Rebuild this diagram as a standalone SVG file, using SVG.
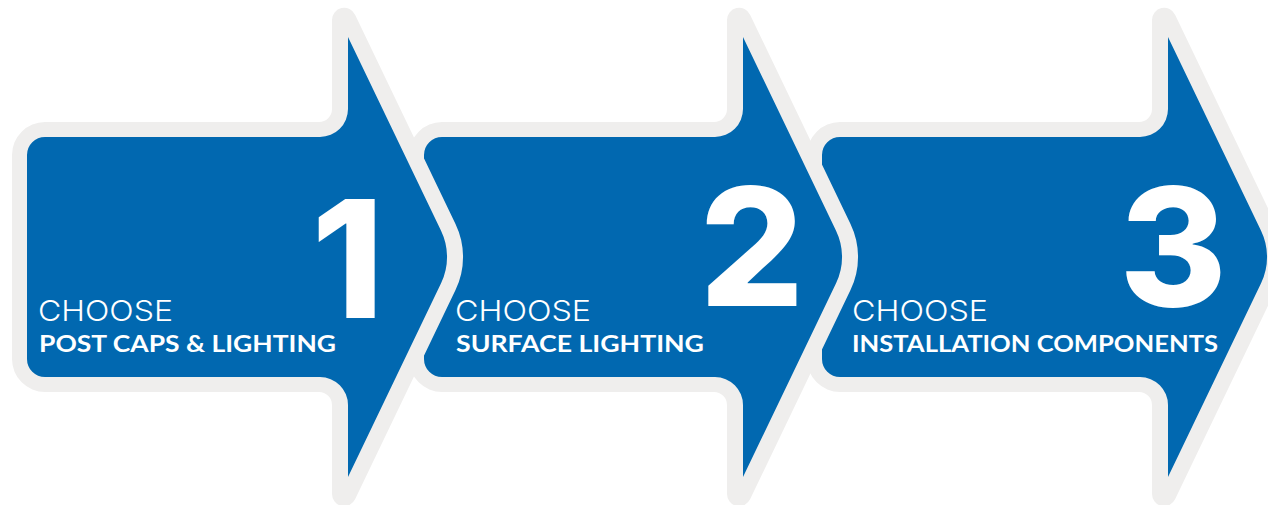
<svg xmlns="http://www.w3.org/2000/svg" width="1268" height="505" viewBox="0 0 1268 505">
<style>
.bg{fill:#EFEEED}
.ar{fill:#0168B0}
.c1{font-family:Inter,"Liberation Sans",sans-serif;font-weight:300;font-size:29px;fill:#fff}
.c2{font-family:Lato,"Liberation Sans",sans-serif;font-weight:700;font-size:22px;fill:#fff}
.num{font-family:Inter,"Liberation Sans",sans-serif;font-weight:800;font-size:164px;fill:#fff;text-anchor:end}
</style>
<rect width="1268" height="505" fill="#fff"/>
<g id="step3">
<path class="bg" d="M807,155 A33,33 0 0 1 840,122 H1139 A13,13 0 0 0 1152,109 V20.2 A12.15,12.15 0 0 1 1175.2,14.9 L1275.5,223.9 A76.4,76.4 0 0 1 1275.5,290.1 L1175.2,499.1 A12.15,12.15 0 0 1 1152,493.8 V405 A13,13 0 0 0 1139,392 H840 A33,33 0 0 1 807,359 Z"/>
<path class="ar" d="M822,155 A18,18 0 0 1 840,137 H1140 A28,28 0 0 0 1168,109 V37 L1261.05,230.7 A60.7,60.7 0 0 1 1261.05,283.3 L1168,477 V405 A28,28 0 0 0 1140,377 H840 A18,18 0 0 1 822,359 Z"/>
<text class="num" x="1227" y="306">3</text>
<text class="c1" x="852" y="321" textLength="136" lengthAdjust="spacingAndGlyphs">CHOOSE</text>
<text class="c2" x="852" y="352" textLength="366" lengthAdjust="spacingAndGlyphs">INSTALLATION COMPONENTS</text>
</g>
<g id="step2">
<path class="bg" d="M409,155 A33,33 0 0 1 442,122 H714 A13,13 0 0 0 727,109 V20.2 A12.15,12.15 0 0 1 750.2,14.9 L850.5,223.9 A76.4,76.4 0 0 1 850.5,290.1 L750.2,499.1 A12.15,12.15 0 0 1 727,493.8 V405 A13,13 0 0 0 714,392 H442 A33,33 0 0 1 409,359 Z"/>
<path class="ar" d="M424,155 A18,18 0 0 1 442,137 H715 A28,28 0 0 0 743,109 V37 L836.05,230.7 A60.7,60.7 0 0 1 836.05,283.3 L743,477 V405 A28,28 0 0 0 715,377 H442 A18,18 0 0 1 424,359 Z"/>
<text class="num" x="804" y="306">2</text>
<text class="c1" x="455" y="321" textLength="136" lengthAdjust="spacingAndGlyphs">CHOOSE</text>
<text class="c2" x="456" y="352" textLength="248" lengthAdjust="spacingAndGlyphs">SURFACE LIGHTING</text>
</g>
<g id="step1">
<path class="bg" d="M12,155 A33,33 0 0 1 45,122 H319 A13,13 0 0 0 332,109 V20.2 A12.15,12.15 0 0 1 355.2,14.9 L455.5,223.9 A76.4,76.4 0 0 1 455.5,290.1 L355.2,499.1 A12.15,12.15 0 0 1 332,493.8 V405 A13,13 0 0 0 319,392 H45 A33,33 0 0 1 12,359 Z"/>
<path class="ar" d="M27,155 A18,18 0 0 1 45,137 H320 A28,28 0 0 0 348,109 V37 L441.05,230.7 A60.7,60.7 0 0 1 441.05,283.3 L348,477 V405 A28,28 0 0 0 320,377 H45 A18,18 0 0 1 27,359 Z"/>
<text class="num" x="384" y="318">1</text>
<text class="c1" x="38" y="321" textLength="135" lengthAdjust="spacingAndGlyphs">CHOOSE</text>
<text class="c2" x="39" y="352" textLength="297" lengthAdjust="spacingAndGlyphs">POST CAPS &amp; LIGHTING</text>
</g>
<g id="connectors"/>
</svg>
